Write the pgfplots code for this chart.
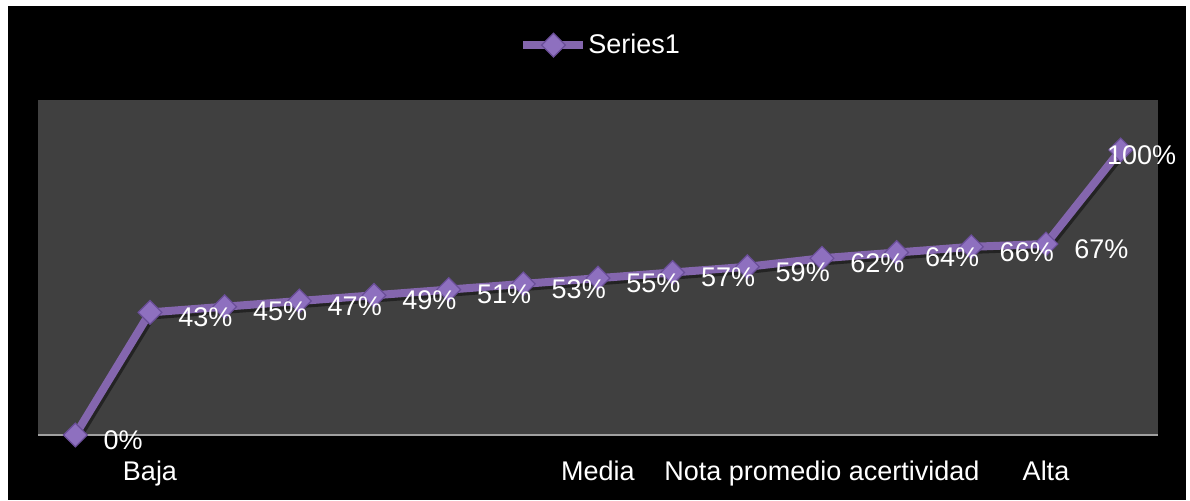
\documentclass[border=0pt]{standalone}
\usepackage{fontspec}
\setmainfont{Liberation Sans}
\usepackage{pgfplots}
\usepackage{pgfplotstable}
\pgfplotsset{compat=1.18}
\definecolor{plotgray}{HTML}{404040}
\definecolor{lineP}{HTML}{8466AE}
\definecolor{markP}{HTML}{8E70BF}
\definecolor{markD}{HTML}{6A4E98}
\definecolor{axgray}{HTML}{A0A0A0}
\pgfplotstableread{
x y
1 0
2 43
3 45
4 47
5 49
6 51
7 53
8 55
9 57
10 59
11 62
12 64
13 66
14 67
15 100
}\data
\begin{document}
\begin{tikzpicture}
\fill[white] (0pt,0pt) rectangle (595pt,-250pt);
\fill[black] (4pt,-3pt) rectangle (593pt,-250pt);
\begin{axis}[
  at={(19pt,-217.5pt)}, anchor=south west,
  width=560pt, height=167.5pt, scale only axis,
  xmin=0.5, xmax=15.5, ymin=0, ymax=117.5,
  clip=false,
  axis background/.style={fill=plotgray},
  axis x line*=bottom, axis y line=none,
  x axis line style={draw=axgray, line width=1pt, -},
  xtick={2,8,11,14},
  xticklabels={Baja,Media,Nota promedio acertividad,Alta},
  major tick length=0pt,
  ytick=\empty,
  xticklabel style={font=\fontsize{13.5}{16}\selectfont, text=white, anchor=base, yshift=-22.5pt},
  legend style={at={(0.502,1.164)}, anchor=center, draw=none, fill=none, text=white,
    font=\fontsize{13.5}{16}\selectfont, inner sep=0pt, nodes={inner xsep=0.5pt},
    /tikz/every even column/.append style={column sep=0pt}},
  legend image code/.code={\draw[mark repeat=2, mark phase=2, #1] plot coordinates {(0pt,0pt) (15pt,0pt) (30pt,0pt)};},
]
\addplot[black, opacity=0.45, line width=4pt, yshift=-1.5pt, xshift=1pt, forget plot] table[x=x,y=y]{\data};
\addplot[color=lineP, line width=4pt, mark=square*, mark size=4.2pt,
  mark options={rotate=45, fill=markP, draw=markD, line width=0.6pt}]
  table[x=x,y=y]{\data};
\addlegendentry{Series1}
\addplot[draw=none, forget plot, point meta=y, skip coords between index={14}{15},
  nodes near coords={\pgfmathprintnumber[fixed,precision=0,assume math mode=true]{\pgfplotspointmeta}\%},
  every node near coord/.append style={anchor=west, xshift=14pt, yshift=-2.5pt, inner sep=0pt, text=white, font=\fontsize{13.5}{16}\selectfont}]
  table[x=x,y=y]{\data};
\addplot[draw=none, forget plot, point meta=y, skip coords between index={0}{14},
  nodes near coords={\pgfmathprintnumber[fixed,precision=0,assume math mode=true]{\pgfplotspointmeta}\%},
  every node near coord/.append style={anchor=west, xshift=-7pt, yshift=-2.5pt, inner sep=0pt, text=white, font=\fontsize{13.5}{16}\selectfont}]
  table[x=x,y=y]{\data};
\end{axis}
\end{tikzpicture}
\end{document}
